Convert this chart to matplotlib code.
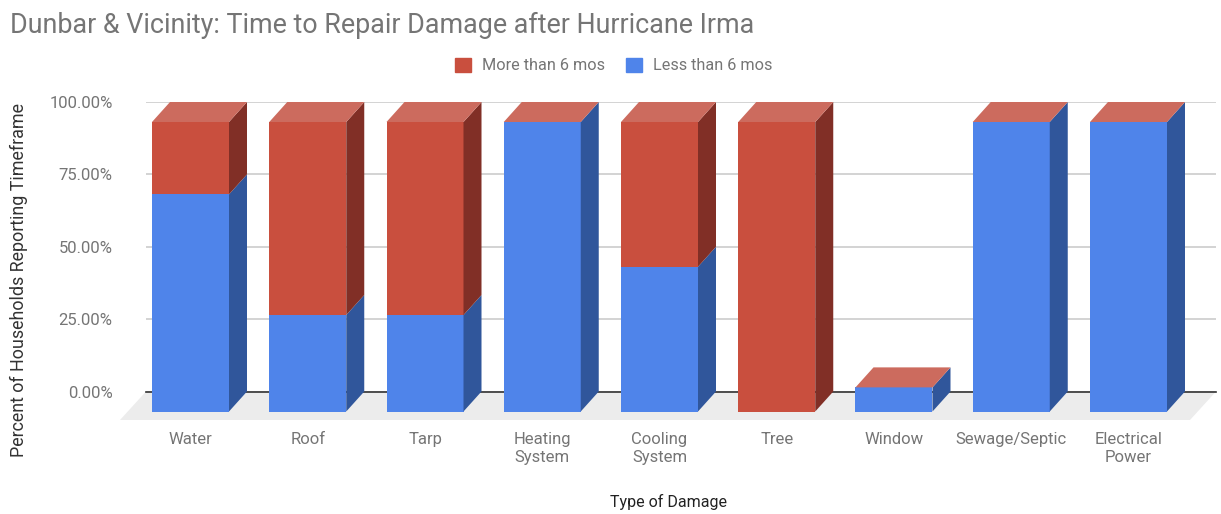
import matplotlib
matplotlib.use("Agg")
import matplotlib.pyplot as plt
from matplotlib.patches import Polygon, Patch

categories = ["Water", "Roof", "Tarp", "Heating\nSystem", "Cooling\nSystem", "Tree",
              "Window", "Sewage/Septic", "Electrical\nPower"]
less_than_6 = [75, 33.33, 33.33, 100, 50, 0, 8.33, 100, 100]
more_than_6 = [25, 66.67, 66.67, 0, 50, 100, 0, 0, 0]
yticks = [0, 25, 50, 75, 100]
ytick_labels = ["0.00%", "25.00%", "50.00%", "75.00%", "100.00%"]

plt.rcParams["font.family"] = ["Roboto", "DejaVu Sans"]

W, H = 1221, 514
fig = plt.figure(figsize=(W / 100, H / 100), dpi=100)

# axes box in pixels, 0% at y=391.5 and 100% at y=102
left, right, top, bottom = 146, 1216, 102, 391.5
ax = fig.add_axes([left / W, 1 - bottom / H, (right - left) / W, (bottom - top) / H])
step = 117.25
ax.set_xlim((left - 190.5) / step, (right - 190.5) / step)
ax.set_ylim(0, 100)

# 3d look: depth offset of the bars, in data units
dx = 18 / step
dy = 20 / 2.895
bar_w = 77 / step

blue, blue_side = "#4F84EA", "#30569B"
red, red_side, red_top = "#C94F3E", "#812F26", "#CC6B5E"

ax.grid(axis="y", color="#CCCCCC", lw=1.2)
ax.set_axisbelow(True)

# floor
x0, x1 = ax.get_xlim()
floor_dx = 26 / step
floor_low = -28.5 / 2.895
ax.add_patch(Polygon([(x0, 0), (x1, 0), (x1 - floor_dx, floor_low), (x0 - floor_dx, floor_low)],
                     closed=True, fc="#ECECEC", ec="none", clip_on=False, zorder=1))
ax.plot([x0, x1], [0, 0], color="#333333", lw=1.2, zorder=1.5, clip_on=False)

for i in range(len(categories)):
    xl = i - bar_w / 2
    xr = i + bar_w / 2
    low = less_than_6[i]
    total = low + more_than_6[i]
    b = -dy
    # fronts
    ax.bar(i, low, bar_w, bottom=b, color=blue, zorder=3, clip_on=False)
    ax.bar(i, more_than_6[i], bar_w, bottom=b + low, color=red, zorder=3, clip_on=False)
    # sides
    ax.add_patch(Polygon([(xr, b), (xr + dx, 0), (xr + dx, low), (xr, b + low)],
                         closed=True, fc=blue_side, ec="none", zorder=3, clip_on=False))
    ax.add_patch(Polygon([(xr, b + low), (xr + dx, low), (xr + dx, total), (xr, b + total)],
                         closed=True, fc=red_side, ec="none", zorder=3, clip_on=False))
    # top
    ax.add_patch(Polygon([(xl, b + total), (xr, b + total), (xr + dx, total), (xl + dx, total)],
                         closed=True, fc=red_top, ec="none", zorder=3, clip_on=False))

for s in ax.spines.values():
    s.set_visible(False)
ax.set_xticks(range(len(categories)))
ax.set_xticklabels(categories, fontsize=12, color="#757575", linespacing=1.2)
ax.set_yticks(yticks)
ax.set_yticklabels(ytick_labels, fontsize=12, color="#757575")
ax.tick_params(axis="both", length=0)
ax.tick_params(axis="x", pad=29.4)
ax.tick_params(axis="y", pad=24)

fig.text(10 / W, 1 - 25 / H, "Dunbar & Vicinity: Time to Repair Damage after Hurricane Irma",
         fontsize=19.4, color="#757575", ha="left", va="center")
fig.text(18.5 / W, 1 - 280 / H, "Percent of Households Reporting Timeframe", rotation=90,
         fontsize=12.9, color="#333333", ha="center", va="center")
fig.text(668 / W, 1 - 502 / H, "Type of Damage", fontsize=11.5, color="#222222", ha="center", va="center")

handles = [Patch(color=red, label="More than 6 mos"), Patch(color=blue, label="Less than 6 mos")]
fig.legend(handles=handles, loc="center", bbox_to_anchor=(613.5 / W, 1 - 65.5 / H), ncols=2, frameon=False,
           fontsize=11.7, labelcolor="#757575", handlelength=1.0, handleheight=1.0, columnspacing=1.3,
           handletextpad=0.65)

fig.savefig("out.png", dpi=100)
